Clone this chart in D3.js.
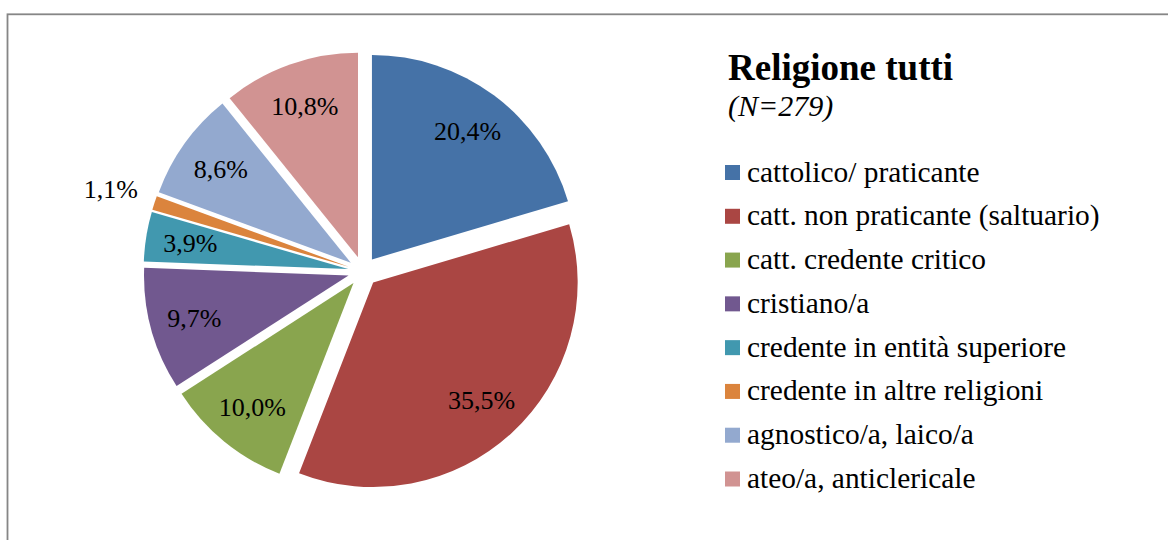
<!DOCTYPE html>
<html>
<head>
<meta charset="utf-8">
<script src="https://cdn.jsdelivr.net/npm/d3@7/dist/d3.min.js"></script>
<style>
  html, body { margin: 0; padding: 0; background: #fff; }
  svg { display: block; }
  text { font-family: "Liberation Serif", "Times New Roman", "DejaVu Serif", serif; fill: #000; }
</style>
</head>
<body>
<svg id="chart" width="1168" height="540"></svg>
<script>
// ---- data ----
const categories = [
  "cattolico/ praticante",
  "catt. non praticante (saltuario)",
  "catt. credente critico",
  "cristiano/a",
  "credente in entità superiore",
  "credente in altre religioni",
  "agnostico/a, laico/a",
  "ateo/a, anticlericale"
];
const values = [20.4, 35.5, 10.0, 9.7, 3.9, 1.1, 8.6, 10.8];
const colors = ["#4572A7", "#AA4643", "#89A54E", "#71588F", "#4198AF", "#DB843D", "#93A9CF", "#D19392"];
const title = "Religione tutti";
const subtitle = "(N=279)";

// ---- layout ----
const svg = d3.select("#chart");
svg.append("rect").attr("width", 1168).attr("height", 540).attr("fill", "#fff");
// chart frame (extends past the right/bottom edges)
svg.append("rect")
  .attr("x", 7.5).attr("y", 14.3)
  .attr("width", 1200).attr("height", 600)
  .attr("fill", "none").attr("stroke", "#868686").attr("stroke-width", 1.8);

const cx = 363, cy = 271.5, r = 204.5, explode = 15;
const labelR = 160, outsideR = r + 46;

const pie = d3.pie().sort(null).value(d => d.value).startAngle(0).endAngle(2 * Math.PI);
const data = categories.map((c, i) => ({ name: c, value: values[i], color: colors[i] }));
const arcs = pie(data);
const arc = d3.arc().innerRadius(0).outerRadius(r);
const fmt = v => d3.format(".1f")(v).replace(".", ",") + "%";

const g = svg.append("g").attr("transform", `translate(${cx},${cy})`);
const slice = g.selectAll("g.slice").data(arcs).enter().append("g")
  .attr("class", "slice")
  .attr("transform", d => {
    const m = (d.startAngle + d.endAngle) / 2;
    return `translate(${Math.sin(m) * explode},${-Math.cos(m) * explode})`;
  });
slice.append("path").attr("d", arc).attr("fill", d => d.data.color);

slice.append("text")
  .attr("text-anchor", "middle")
  .attr("font-size", 26)
  .attr("dy", "0.34em")
  .attr("x", d => {
    const m = (d.startAngle + d.endAngle) / 2;
    const rr = d.data.value < 2 ? outsideR : labelR;
    return Math.sin(m) * rr;
  })
  .attr("y", d => {
    const m = (d.startAngle + d.endAngle) / 2;
    const rr = d.data.value < 2 ? outsideR : labelR;
    return -Math.cos(m) * rr;
  })
  .text(d => fmt(d.data.value));

// ---- title & legend ----
svg.append("text").attr("x", 728).attr("y", 79.5)
  .attr("font-size", 37).attr("font-weight", "bold").text(title);
svg.append("text").attr("x", 728).attr("y", 116)
  .attr("font-size", 30).attr("font-style", "italic").text(subtitle);

const legendY = d3.scalePoint().domain(categories).range([172.5, 479]);
const leg = svg.selectAll("g.leg").data(data).enter().append("g")
  .attr("class", "leg")
  .attr("transform", d => `translate(725,${legendY(d.name)})`);
leg.append("rect").attr("x", 0).attr("y", -7.5).attr("width", 15).attr("height", 15)
  .attr("fill", d => d.color);
leg.append("text").attr("x", 22).attr("y", 9).attr("font-size", 29.4).text(d => d.name);
</script>
</body>
</html>
